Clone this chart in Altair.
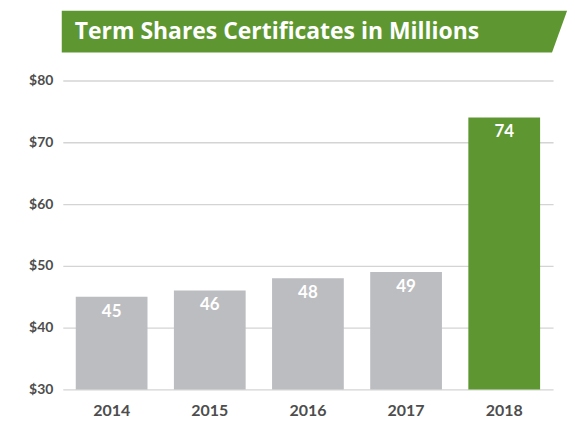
import altair as alt
import pandas as pd

years = ["2014", "2015", "2016", "2017", "2018"]
values = [45, 46, 48, 49, 74]
bar_colors = ["#bcbdc0", "#bcbdc0", "#bcbdc0", "#bcbdc0", "#5e9732"]
title_text = "Term Shares Certificates in Millions"
y_ticks = [30, 40, 50, 60, 70, 80]

df = pd.DataFrame({"year": years, "value": values, "color": bar_colors, "base": [30] * 5})

x_enc = alt.X("year:N", sort=years, title=None,
              scale=alt.Scale(paddingInner=0.269, paddingOuter=0.132),
              axis=alt.Axis(labelAngle=0, ticks=False, domain=False,
                            labelFont="Lato", labelFontWeight="bold", labelFontSize=16,
                            labelColor="#4d4d4d", labelPadding=13))
y_scale = alt.Scale(domain=[30, 80], nice=False, zero=False)

bars = alt.Chart(df).mark_bar().encode(
    x=x_enc,
    y=alt.Y("value:Q", scale=y_scale, title=None,
            axis=alt.Axis(values=y_ticks, format="$d", ticks=False, domain=False,
                          gridColor="#d4d4d4", gridWidth=1.3,
                          labelFont="Lato", labelFontWeight="bold", labelFontSize=14,
                          labelColor="#4d4d4d", labelPadding=10)),
    y2="base:Q",
    color=alt.Color("color:N", scale=None),
)

labels = alt.Chart(df).mark_text(
    baseline="middle", dy=15, color="white", font="Lato", fontWeight="bold", fontSize=17
).encode(
    x=alt.X("year:N", sort=years),
    y=alt.Y("value:Q", scale=y_scale),
    text="value:Q",
)

banner_df = pd.DataFrame({"t": [title_text]})
banner = alt.Chart(banner_df).mark_point(
    shape="M-0.05,-1 L24.1,-1 L23.38,1 L-0.05,1 Z",
    filled=True, opacity=1, color="#5e9732", size=1764, strokeWidth=0,
).encode(x=alt.value(0), y=alt.value(-49))

banner_text = alt.Chart(banner_df).mark_text(
    align="left", baseline="middle", color="white", font="Open Sans",
    fontWeight="bold", fontSize=23,
).encode(x=alt.value(12), y=alt.value(-49), text="t:N")

chart = alt.layer(bars, labels, banner, banner_text).properties(
    width=492, height=310,
    autosize=alt.AutoSizeParams(type="none"),
    padding={"left": 55, "top": 72, "right": 14, "bottom": 32},
).configure_view(stroke=None)

chart.save("out.html", embed_options={"renderer": "svg", "actions": False})
